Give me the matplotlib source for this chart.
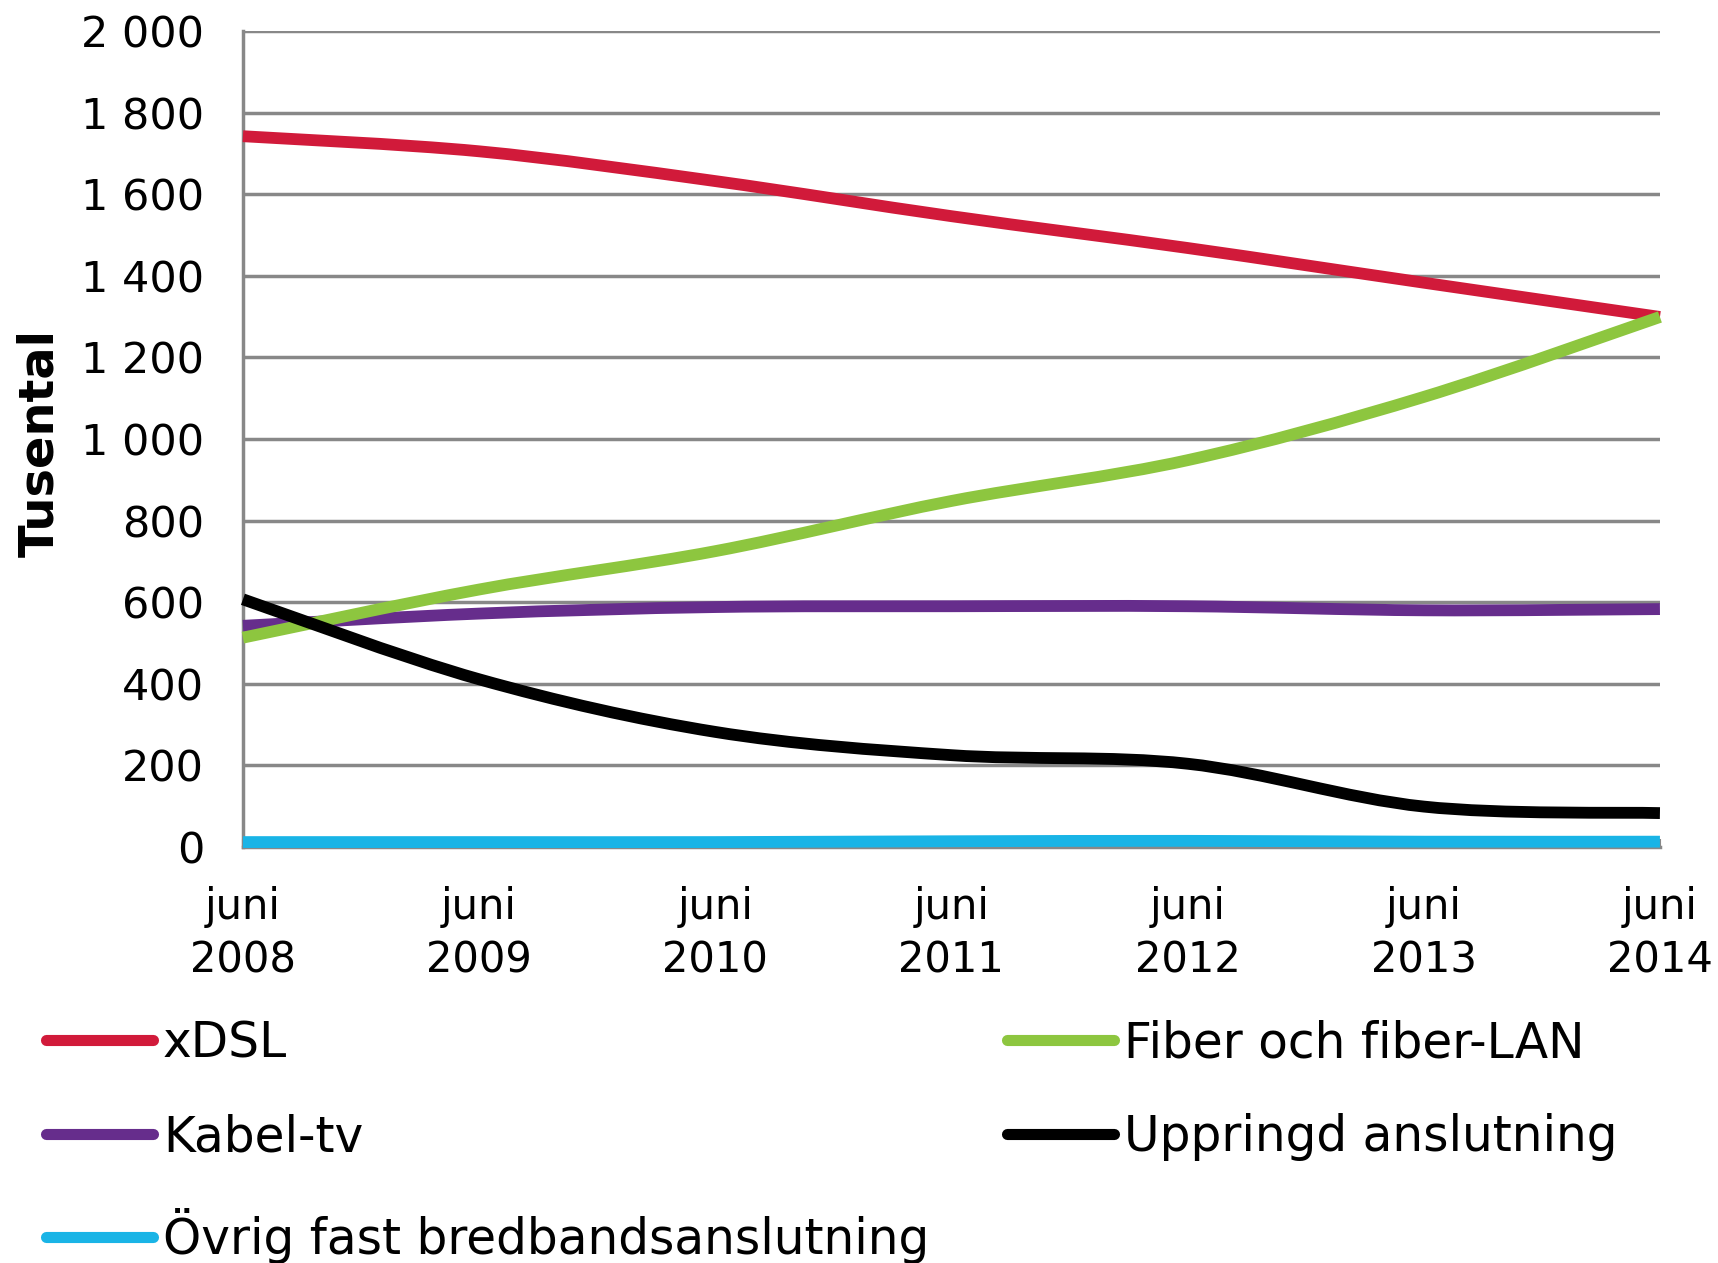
import numpy as np
import matplotlib
matplotlib.use("Agg")
import matplotlib.pyplot as plt
from matplotlib.path import Path
from matplotlib.patches import PathPatch
from matplotlib.lines import Line2D

# data (tusental)
perioder = ["juni\n2008", "juni\n2009", "juni\n2010", "juni\n2011",
            "juni\n2012", "juni\n2013", "juni\n2014"]
xdsl = [1742, 1705, 1632, 1546, 1468, 1383, 1299]
fiber = [513, 631, 725, 848, 948, 1103, 1299]
kabel = [542, 572, 588, 590, 590, 580, 583]
uppringd = [607, 411, 282, 225, 204, 99, 83]
ovrig = [12, 12, 12, 14, 15, 13, 13]

y_ticks = [0, 200, 400, 600, 800, 1000, 1200, 1400, 1600, 1800, 2000]
y_labels = ["0", "200", "400", "600", "800", "1 000", "1 200", "1 400",
            "1 600", "1 800", "2 000"]

serier = [
    ("xDSL", xdsl, "#D11A3A"),
    ("Kabel-tv", kabel, "#662D8C"),
    ("Övrig fast bredbandsanslutning", ovrig, "#19B4E6"),
    ("Fiber och fiber-LAN", fiber, "#8DC63F"),
    ("Uppringd anslutning", uppringd, "#000000"),
]
ritordning = [2, 1, 0, 3, 4]  # xDSL under fiber vid 2014, svart överst


def mjuk_kurva(x, y):
    # utjämnad linje som i Excel (bezier genom punkterna)
    p = np.column_stack([x, y]).astype(float)
    n = len(p)
    verts = [p[0]]
    codes = [Path.MOVETO]
    for i in range(n - 1):
        p0 = p[i - 1] if i > 0 else p[i]
        p3 = p[i + 2] if i + 2 < n else p[i + 1]
        c1 = p[i] + (p[i + 1] - p0) / 6
        c2 = p[i + 1] - (p3 - p[i]) / 6
        verts += [c1, c2, p[i + 1]]
        codes += [Path.CURVE4] * 3
    return Path(verts, codes)


plt.rcParams['font.family'] = ['DejaVu Sans']
fig = plt.figure(figsize=(17.18, 12.63), dpi=100)
ax = fig.add_axes([0.1414, 0.3294, 0.8248, 0.6461])

x = np.arange(len(perioder))
for i in ritordning:
    namn, y, farg = serier[i]
    patch = PathPatch(mjuk_kurva(x, y), facecolor='none', edgecolor=farg,
                      lw=8.5, capstyle='butt', joinstyle='round',
                      clip_on=False, zorder=3 + i)
    ax.add_patch(patch)

ax.set_xlim(0, 6)
ax.set_ylim(0, 2000)
ax.set_yticks(y_ticks)
ax.set_yticklabels(y_labels)
ax.set_xticks(x)
ax.set_xticklabels(perioder, linespacing=1.34)
ax.yaxis.grid(True, color='#888888', lw=2.5)
ax.set_axisbelow(True)
for s in ['top', 'right']:
    ax.spines[s].set_visible(False)
for s in ['left', 'bottom']:
    ax.spines[s].set_color('#888888')
    ax.spines[s].set_linewidth(2.5)
ax.tick_params(axis='y', length=0, pad=28, labelsize=31)
ax.tick_params(axis='x', direction='in', length=6, width=1.5,
               color='#888888', pad=28, labelsize=30)
ax.set_ylabel('Tusental', fontsize=34.5, fontweight='bold')
ax.yaxis.set_label_coords(-0.127, 0.495)

handles = [Line2D([], [], color=c, lw=8, solid_capstyle='round')
           for _, _, c in serier]
labels = [n for n, _, _ in serier]
fig.legend(handles, labels, loc='upper left', bbox_to_anchor=(0.027, 0.193),
           ncol=2, frameon=False, fontsize=35, handlelength=2.2,
           handletextpad=0.2, columnspacing=1.6, labelspacing=0.95,
           borderpad=0, borderaxespad=0)

fig.savefig('out.png', dpi=100)
